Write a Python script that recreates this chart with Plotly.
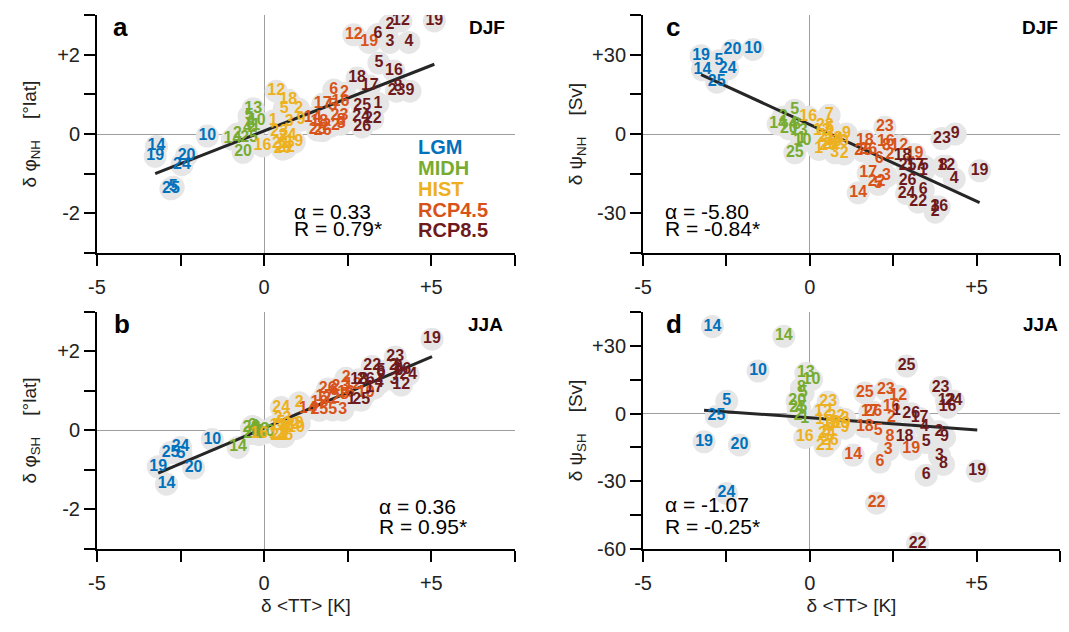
import plotly.graph_objects as go

# ---------------- data ----------------
scenario_names = ["LGM", "MIDH", "HIST", "RCP4.5", "RCP8.5"]
scenario_colors = ["#0072BD", "#77AC30", "#EDB120", "#D95319", "#6E1A1C"]

lgm_id     = [5, 10, 14, 19, 20, 24, 25]
lgm_tt_djf = [-2.72, -1.70, -3.22, -3.26, -2.32, -2.46, -2.79]
lgm_phi_nh = [-1.34, -0.05, -0.31, -0.56, -0.54, -0.77, -1.38]
lgm_psi_nh = [27.7, 32.0, 24.3, 29.6, 31.6, 24.6, 19.6]
lgm_tt_jja = [-2.49, -1.55, -2.92, -3.17, -2.11, -2.50, -2.80]
lgm_phi_sh = [-0.60, -0.23, -1.36, -0.92, -0.95, -0.43, -0.56]
lgm_psi_sh = [5.4, 18.8, 38.5, -12.5, -13.9, -35.4, -1.3]

midh_id     = [1, 2, 4, 5, 8, 10, 13, 14, 20, 25]
midh_tt_djf = [-0.25, -0.80, -0.50, -0.45, -0.40, -0.22, -0.33, -0.95, -0.63, -0.45]
midh_phi_nh = [0.20, 0.00, 0.15, 0.45, 0.25, 0.33, 0.64, -0.13, -0.46, -0.10]
midh_psi_nh = [-2.0, 6.4, 4.0, 9.0, 3.5, -2.6, 1.0, 3.8, 2.0, -7.1]
midh_tt_jja = [-0.15, -0.35, -0.30, -0.20, -0.25, 0.05, -0.12, -0.78, -0.38, -0.35]
midh_phi_sh = [-0.10, 0.10, 0.08, -0.05, 0.05, -0.05, 0.00, -0.43, 0.05, -0.08]
midh_psi_sh = [-2.5, -1.0, 2.0, 9.0, 11.1, 15.0, 17.8, 34.2, 5.5, 2.5]

hist_id     = [1, 2, 3, 5, 7, 9, 12, 16, 18, 19, 21, 22, 23, 24, 26]
hist_tt_djf = [0.27, 1.03, 0.75, 0.60, 0.58, 1.10, 0.36, -0.05, 0.72, 0.90, 0.50, 0.65, 0.45, 0.70, 0.55]
hist_phi_nh = [0.33, 0.63, 0.30, 0.64, -0.10, 0.35, 1.08, -0.30, 0.85, -0.20, -0.25, -0.35, 0.05, -0.05, -0.38]
hist_psi_nh = [-5.8, -7.5, -7.1, 2.0, 7.1, 0.0, 1.0, 6.4, -2.0, -3.0, -1.5, -4.0, 3.0, -2.5, -4.5]
hist_tt_jja = [0.30, 1.05, 0.60, 0.50, 0.70, 1.05, 0.40, -0.15, 0.65, 0.95, 0.45, 0.80, 0.55, 0.51, 0.60]
hist_phi_sh = [0.10, 0.70, -0.05, 0.20, 0.00, 0.17, -0.10, -0.10, 0.10, 0.05, -0.15, 0.15, 0.30, 0.58, -0.15]
hist_psi_sh = [-3.0, -2.5, -5.0, -8.0, -6.0, -6.5, 0.5, -10.6, -4.0, -4.5, -14.3, -1.5, 5.1, -9.0, -12.0]

r45_id     = [2, 3, 5, 6, 8, 12, 14, 16, 17, 18, 19, 22, 23, 25, 26]
r45_tt_djf = [2.40, 2.30, 2.05, 2.08, 2.30, 2.68, 1.45, 2.28, 1.75, 1.65, 3.14, 2.00, 2.25, 1.60, 1.75]
r45_phi_nh = [1.03, 0.25, 0.72, 1.11, 0.32, 2.50, 0.40, 0.80, 0.75, 0.30, 2.31, 0.20, 0.45, 0.10, 0.09]
r45_psi_nh = [-8.0, -16.0, -19.0, -9.6, -4.5, -4.5, -22.2, -3.0, -14.8, -2.6, -7.7, -18.0, 2.6, -6.4, -6.0]
r45_tt_jja = [2.45, 2.35, 2.05, 2.10, 2.40, 2.65, 1.30, 2.45, 1.80, 1.65, 3.04, 2.00, 2.28, 1.65, 1.90]
r45_phi_sh = [1.32, 0.52, 0.52, 1.00, 0.90, 1.15, 0.55, 0.95, 0.85, 0.70, 0.95, 0.80, 1.10, 0.51, 1.05]
r45_psi_sh = [-1.9, -16.1, -7.9, -21.5, -10.3, 7.6, -18.4, 3.1, 0.6, -5.8, -15.8, -39.7, 10.6, 9.1, 0.6]

r85_id     = [1, 2, 3, 4, 5, 6, 8, 9, 12, 16, 17, 18, 19, 22, 23, 24, 25, 26]
r85_tt_djf = [3.40, 3.76, 3.76, 4.33, 3.43, 3.40, 4.00, 4.36, 4.09, 3.88, 3.16, 2.78, 5.09, 3.25, 3.96, 2.90, 2.93, 2.93]
r85_phi_nh = [0.77, 2.74, 2.31, 2.31, 1.79, 2.51, 1.18, 1.08, 2.85, 1.59, 1.21, 1.41, 2.85, 0.38, 1.08, 0.42, 0.72, 0.18]
r85_psi_nh = [-14.1, -29.5, -27.6, -17.0, -12.2, -21.2, -12.2, 0.0, -12.2, -27.6, -12.2, -8.3, -13.9, -25.7, -1.7, -22.5, -12.2, -17.6]
r85_tt_jja = [2.60, 3.87, 3.89, 3.44, 3.49, 3.49, 4.01, 4.04, 4.10, 4.13, 3.29, 2.84, 5.02, 3.23, 3.92, 4.31, 2.90, 3.04]
r85_phi_sh = [0.77, 1.64, 1.28, 1.20, 1.50, 1.45, 1.58, 1.50, 1.15, 1.52, 1.07, 1.28, 2.31, 1.62, 1.86, 1.41, 0.77, 1.28]
r85_psi_sh = [1.0, -8.1, -18.8, -5.8, -12.8, -27.3, -22.5, -10.6, 5.5, 2.8, -2.2, -10.3, -25.5, -57.6, 11.5, 5.5, 21.0, -0.1]

x_tickvals = [-5, -2.5, 0, 2.5, 5, 7.5]
x_ticktext = ["-5", "", "0", "", "+5", ""]
phi_tickvals = [-3, -2, -1, 0, 1, 2, 3]
phi_ticktext = ["", "-2", "", "0", "", "+2", ""]
psinh_tickvals = [-45, -30, -15, 0, 15, 30, 45]
psinh_ticktext = ["", "-30", "", "0", "", "+30", ""]
psish_tickvals = [-60, -45, -30, -15, 0, 15, 30, 45]
psish_ticktext = ["-60", "", "-30", "", "0", "", "+30", ""]

panel_letters = ["a", "b", "c", "d"]
panel_seasons = ["DJF", "JJA", "DJF", "JJA"]
fit_slope = [0.33, 0.36, -5.80, -1.07]
fit_intercept = [0.08, 0.06, 3.6, -1.9]
fit_r = ["0.79*", "0.95*", "-0.84*", "-0.25*"]

# ---------------- assemble ----------------
scenarios = [
    dict(id=lgm_id, tt_djf=lgm_tt_djf, phi_nh=lgm_phi_nh, psi_nh=lgm_psi_nh,
         tt_jja=lgm_tt_jja, phi_sh=lgm_phi_sh, psi_sh=lgm_psi_sh),
    dict(id=midh_id, tt_djf=midh_tt_djf, phi_nh=midh_phi_nh, psi_nh=midh_psi_nh,
         tt_jja=midh_tt_jja, phi_sh=midh_phi_sh, psi_sh=midh_psi_sh),
    dict(id=hist_id, tt_djf=hist_tt_djf, phi_nh=hist_phi_nh, psi_nh=hist_psi_nh,
         tt_jja=hist_tt_jja, phi_sh=hist_phi_sh, psi_sh=hist_psi_sh),
    dict(id=r45_id, tt_djf=r45_tt_djf, phi_nh=r45_phi_nh, psi_nh=r45_psi_nh,
         tt_jja=r45_tt_jja, phi_sh=r45_phi_sh, psi_sh=r45_psi_sh),
    dict(id=r85_id, tt_djf=r85_tt_djf, phi_nh=r85_phi_nh, psi_nh=r85_psi_nh,
         tt_jja=r85_tt_jja, phi_sh=r85_phi_sh, psi_sh=r85_psi_sh),
]

FONT = "Liberation Sans, Arial, Helvetica, sans-serif"

# panel: (xaxis, yaxis, xkey, ykey)
panels = [
    ("x", "y", "tt_djf", "phi_nh"),     # a
    ("x3", "y3", "tt_jja", "phi_sh"),   # b
    ("x2", "y2", "tt_djf", "psi_nh"),   # c
    ("x4", "y4", "tt_jja", "psi_sh"),   # d
]

fig = go.Figure()

for pi, (xa, ya, xk, yk) in enumerate(panels):
    allx, ally = [], []
    for s in scenarios:
        allx += s[xk]
        ally += s[yk]
    # grey discs
    fig.add_trace(go.Scatter(x=allx, y=ally, xaxis=xa, yaxis=ya, mode="markers",
                             marker=dict(size=23, color="#E6E6E6", line=dict(width=0)),
                             hoverinfo="skip", showlegend=False))
    # regression line
    x0, x1 = min(allx), max(allx)
    fig.add_trace(go.Scatter(x=[x0, x1],
                             y=[fit_slope[pi] * x0 + fit_intercept[pi],
                                fit_slope[pi] * x1 + fit_intercept[pi]],
                             xaxis=xa, yaxis=ya, mode="lines",
                             line=dict(color="#262626", width=3),
                             hoverinfo="skip", showlegend=False))
    # model numbers
    for s, col in zip(scenarios, scenario_colors):
        fig.add_trace(go.Scatter(x=s[xk], y=s[yk], xaxis=xa, yaxis=ya, mode="text",
                                 text=[str(i) for i in s["id"]],
                                 textposition="middle center",
                                 textfont=dict(family=FONT, size=16, color=col, weight="bold"),
                                 hoverinfo="skip", showlegend=False))

axis_common = dict(showline=True, linecolor="black", linewidth=2, ticks="outside",
                   ticklen=11, tickwidth=2, tickcolor="black", showgrid=False,
                   zeroline=True, zerolinecolor="#9E9E9E", zerolinewidth=1,
                   layer="above traces", mirror=False,
                   tickfont=dict(family=FONT, size=20, color="#222222"))

xcol_l = [0.0, 0.434]
xcol_r = [0.567, 1.0]
yrow_t = [0.554, 1.0]
yrow_b = [0.0, 0.444]

xt = dict(axis_common, range=[-5, 7.5], tickmode="array", tickvals=x_tickvals,
          ticktext=x_ticktext, ticklabelstandoff=4)
xtitle = dict(text="δ &lt;TT&gt; [K]", font=dict(family=FONT, size=19, color="#222222"), standoff=6)

# page body adds an 8px margin; compensate so the plot sits like the reference
fig.update_layout(
    width=1053, height=616,
    margin=dict(l=89, r=1, t=7, b=75),
    paper_bgcolor="white", plot_bgcolor="white",
    showlegend=False,
    xaxis=dict(xt, domain=xcol_l, anchor="y"),
    xaxis2=dict(xt, domain=xcol_r, anchor="y2"),
    xaxis3=dict(xt, domain=xcol_l, anchor="y3", title=xtitle),
    xaxis4=dict(xt, domain=xcol_r, anchor="y4", title=xtitle),
    yaxis=dict(axis_common, domain=yrow_t, anchor="x", range=[-3, 3], tickmode="array",
               tickvals=phi_tickvals, ticktext=phi_ticktext,
               title=dict(text="δ φ<sub>NH</sub>&nbsp;&nbsp;&nbsp;&nbsp;[°lat]",
                          font=dict(family=FONT, size=19, color="#222222"), standoff=16)),
    yaxis3=dict(axis_common, domain=yrow_b, anchor="x3", range=[-3, 3], tickmode="array",
                tickvals=phi_tickvals, ticktext=phi_ticktext,
                title=dict(text="δ φ<sub>SH</sub>&nbsp;&nbsp;&nbsp;&nbsp;[°lat]",
                           font=dict(family=FONT, size=19, color="#222222"), standoff=16)),
    yaxis2=dict(axis_common, domain=yrow_t, anchor="x2", range=[-45, 45], tickmode="array",
                tickvals=psinh_tickvals, ticktext=psinh_ticktext,
                title=dict(text="δ ψ<sub>NH</sub>&nbsp;&nbsp;&nbsp;&nbsp;[Sv]",
                           font=dict(family=FONT, size=19, color="#222222"), standoff=4)),
    yaxis4=dict(axis_common, domain=yrow_b, anchor="x4", range=[-60, 45], tickmode="array",
                tickvals=psish_tickvals, ticktext=psish_ticktext,
                title=dict(text="δ ψ<sub>SH</sub>&nbsp;&nbsp;&nbsp;&nbsp;[Sv]",
                           font=dict(family=FONT, size=19, color="#222222"), standoff=4)),
)

ann = []
axrefs = [("x", "y"), ("x3", "y3"), ("x2", "y2"), ("x4", "y4")]
letter_x = [0.033, 0.036, 0.05, 0.05]
season_x = [0.98, 0.976, 1.0, 1.0]
stat_pos = [(0.466, 0.174, 0.105), (0.670, 0.178, 0.094),
            (0.048, 0.176, 0.105), (0.048, 0.186, 0.093)]
for i, (xr, yr) in enumerate(axrefs):
    xd, yd = xr + " domain", yr + " domain"
    ann.append(dict(xref=xd, yref=yd, x=letter_x[i], y=1.02, xanchor="left", yanchor="top",
                    text="<b>%s</b>" % panel_letters[i], showarrow=False,
                    font=dict(family=FONT, size=26, color="black")))
    ann.append(dict(xref=xd, yref=yd, x=season_x[i], y=1.0, xanchor="right", yanchor="top",
                    text="<b>%s</b>" % panel_seasons[i], showarrow=False,
                    font=dict(family=FONT, size=19, color="black")))
    sx, sy1, sy2 = stat_pos[i]
    ann.append(dict(xref=xd, yref=yd, x=sx, y=sy1, xanchor="left", yanchor="middle",
                    text="α = %.2f" % fit_slope[i], showarrow=False,
                    font=dict(family=FONT, size=21, color="black")))
    ann.append(dict(xref=xd, yref=yd, x=sx, y=sy2, xanchor="left", yanchor="middle",
                    text="R = %s" % fit_r[i], showarrow=False,
                    font=dict(family=FONT, size=21, color="black")))

legend_y = [0.445, 0.357, 0.269, 0.181, 0.097]
for name, col, ly in zip(scenario_names, scenario_colors, legend_y):
    ann.append(dict(xref="x domain", yref="y domain", x=0.763, y=ly, xanchor="left",
                    yanchor="middle", text="<b>%s</b>" % name, showarrow=False,
                    font=dict(family=FONT, size=20, color=col)))

fig.update_layout(annotations=ann)

fig.write_html("out.html")
